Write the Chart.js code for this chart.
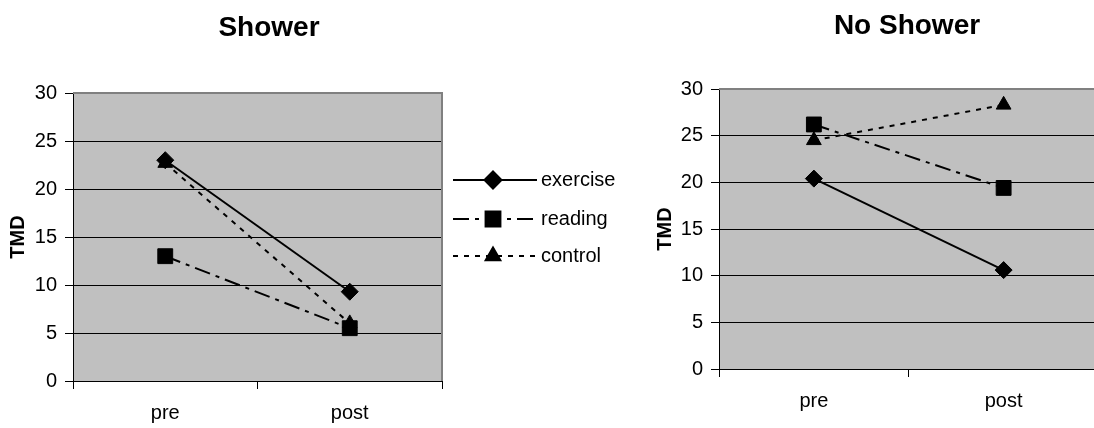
<!DOCTYPE html>
<html>
<head>
<meta charset="utf-8">
<script src="https://cdn.jsdelivr.net/npm/chart.js@4/dist/chart.umd.min.js"></script>
<style>
  html, body { margin: 0; padding: 0; background: #fff; overflow: hidden; }
  #wrap { position: relative; width: 1094px; height: 428px; overflow: hidden; }
  canvas { position: absolute; top: 0; }
  #showerChart { left: 0; }
  #noShowerChart { left: 640px; }
</style>
</head>
<body>
<div id="wrap">
  <canvas id="showerChart" width="640" height="428"></canvas>
  <canvas id="noShowerChart" width="470" height="428"></canvas>
</div>
<script>
// data
const categories = ["pre", "post"]
const seriesNames = ["exercise", "reading", "control"]

const showerExercise = [23.0, 9.3]
const showerReading = [13.0, 5.5]
const showerControl = [22.7, 6.0]

const noShowerExercise = [20.4, 10.6]
const noShowerReading = [26.2, 19.4]
const noShowerControl = [24.5, 28.3]

const yMin = 0
const yMax = 30
const yStep = 5

const FONT = '"Liberation Sans", Arial, sans-serif'

// line / marker styles per series
const seriesStyles = [
   { borderDash: [], pointStyle: "rectRot", pointRadius: 8.5 },
   { borderDash: [16, 6, 4, 6], pointStyle: "rect", pointRadius: 10.5 },
   { borderDash: [5, 6], pointStyle: "triangle", pointRadius: 8.5 },
]

const makeDatasets = values =>
   values.map((data, i) => ({
      label: seriesNames[i],
      data: data,
      borderColor: "#000",
      backgroundColor: "#000",
      borderWidth: 2,
      borderDash: seriesStyles[i].borderDash,
      pointStyle: seriesStyles[i].pointStyle,
      pointRadius: seriesStyles[i].pointRadius,
      pointHoverRadius: seriesStyles[i].pointRadius,
      pointBackgroundColor: "#000",
      pointBorderColor: "#000",
      pointBorderWidth: 1,
      tension: 0,
   }))

// grey plot area + grey top/right frame
const plotArea = {
   id: "plotArea",
   beforeDraw(chart) {
      const { ctx, chartArea: a } = chart
      ctx.save()
      ctx.fillStyle = "#c0c0c0"
      ctx.fillRect(a.left, a.top, a.right - a.left, a.bottom - a.top)
      ctx.restore()
   },
   beforeDatasetsDraw(chart) {
      const { ctx, chartArea: a } = chart
      ctx.save()
      ctx.strokeStyle = "#808080"
      ctx.lineWidth = 2
      ctx.beginPath()
      ctx.moveTo(a.left, a.top)
      ctx.lineTo(a.right, a.top)
      ctx.lineTo(a.right, a.bottom)
      ctx.stroke()
      ctx.restore()
   },
}

// bold heading at a given spot
const heading = {
   id: "heading",
   afterDraw(chart, args, opts) {
      if (!opts.text) return
      const ctx = chart.ctx
      ctx.save()
      ctx.fillStyle = "#000"
      ctx.font = "bold 28px " + FONT
      ctx.textAlign = "center"
      ctx.textBaseline = "middle"
      ctx.fillText(opts.text, opts.x, opts.y)
      ctx.restore()
   },
}

// line + marker legend, Excel style
const lineLegend = {
   id: "lineLegend",
   afterDraw(chart, args, opts) {
      if (!opts.display) return
      const ctx = chart.ctx
      chart.data.datasets.forEach((ds, i) => {
         const y = opts.rows[i]
         ctx.save()
         ctx.strokeStyle = ds.borderColor
         ctx.lineWidth = ds.borderWidth
         ctx.setLineDash(ds.borderDash)
         ctx.beginPath()
         ctx.moveTo(opts.x0, y)
         ctx.lineTo(opts.x1, y)
         ctx.stroke()
         ctx.setLineDash([])
         ctx.fillStyle = "#000"
         Chart.helpers.drawPoint(
            ctx,
            {
               pointStyle: ds.pointStyle,
               radius: ds.pointRadius,
               rotation: 0,
               borderWidth: 1,
            },
            opts.xm,
            y
         )
         ctx.fillStyle = "#000"
         ctx.font = "20px " + FONT
         ctx.textAlign = "left"
         ctx.textBaseline = "middle"
         ctx.fillText(ds.label, opts.xt, y)
         ctx.restore()
      })
   },
}

const makeChart = (canvas, values, cfg) =>
   new Chart(canvas.getContext("2d"), {
      type: "line",
      data: { labels: categories, datasets: makeDatasets(values) },
      plugins: [plotArea, heading, lineLegend],
      options: {
         responsive: false,
         animation: false,
         devicePixelRatio: 1,
         layout: {
            padding: { top: cfg.top, right: cfg.right, left: 0, bottom: 0 },
         },
         plugins: {
            legend: { display: false },
            tooltip: { enabled: false },
            heading: cfg.heading,
            lineLegend: cfg.legend,
         },
         scales: {
            x: {
               offset: true,
               grid: {
                  offset: true,
                  drawOnChartArea: false,
                  drawTicks: true,
                  tickLength: 8,
                  color: "#000",
               },
               border: { display: true, color: "#000", width: 1 },
               ticks: {
                  color: "#000",
                  font: { family: FONT, size: 20 },
                  padding: 12,
                  maxRotation: 0,
               },
               afterFit: scale => {
                  scale.height = cfg.xHeight
               },
            },
            y: {
               min: yMin,
               max: yMax,
               grid: {
                  color: "#000",
                  lineWidth: 1,
                  tickLength: 8,
               },
               border: { display: true, color: "#000", width: 1 },
               ticks: {
                  stepSize: yStep,
                  color: "#000",
                  font: { family: FONT, size: 20 },
                  padding: 8,
               },
               title: {
                  display: true,
                  text: "TMD",
                  color: "#000",
                  font: { family: FONT, size: 20, weight: "bold" },
                  padding: { top: cfg.titlePad, bottom: 0 },
               },
               afterFit: scale => {
                  scale.width = cfg.yWidth
               },
            },
         },
      },
   })

makeChart(
   document.getElementById("showerChart"),
   [showerExercise, showerReading, showerControl],
   {
      top: 93,
      right: 198,
      xHeight: 47,
      yWidth: 73,
      titlePad: 6,
      heading: { text: "Shower", x: 269, y: 28 },
      legend: { display: true, x0: 453, x1: 537, xm: 493, xt: 541, rows: [180, 219, 256] },
   }
)

makeChart(
   document.getElementById("noShowerChart"),
   [noShowerExercise, noShowerReading, noShowerControl],
   {
      top: 89,
      right: 8,
      xHeight: 59,
      yWidth: 79,
      titlePad: 13,
      heading: { text: "No Shower", x: 267, y: 26 },
      legend: { display: false },
   }
)
</script>
</body>
</html>
